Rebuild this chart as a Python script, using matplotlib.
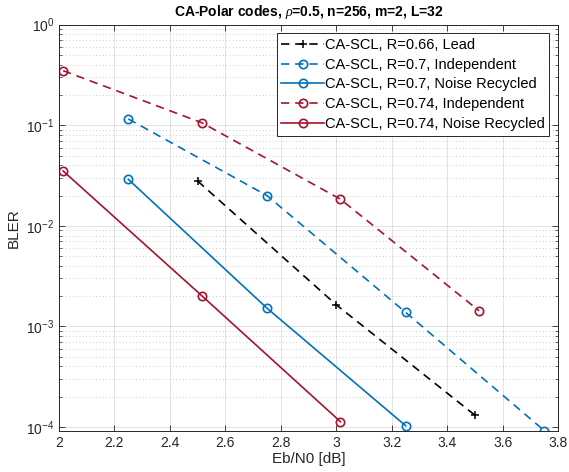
import matplotlib
matplotlib.use('Agg')
import matplotlib.pyplot as plt
from matplotlib.ticker import LogLocator, NullFormatter

plt.rcParams['font.family'] = ['Liberation Sans', 'DejaVu Sans']
plt.rcParams['mathtext.fontset'] = 'custom'
plt.rcParams['mathtext.rm'] = 'Liberation Sans'
plt.rcParams['mathtext.it'] = 'Liberation Serif:italic'

# Eb/N0 points and BLER values
ebn0_lead = [2.5, 3.0, 3.5]
bler_lead = [0.0279, 0.00164, 1.31e-4]

ebn0_r70 = [2.25, 2.75, 3.25, 3.75]
bler_r70_ind = [0.1156, 0.0200, 0.00138, 9.2e-5]
ebn0_r70_nr = [2.25, 2.75, 3.25]
bler_r70_nr = [0.0290, 0.00152, 1.03e-4]

ebn0_r74 = [2.015, 2.515, 3.015, 3.515]
bler_r74_ind = [0.349, 0.106, 0.0184, 0.00143]
ebn0_r74_nr = [2.015, 2.515, 3.015]
bler_r74_nr = [0.0351, 0.00202, 1.13e-4]

labels = ['CA-SCL, R=0.66, Lead',
          'CA-SCL, R=0.7, Independent',
          'CA-SCL, R=0.7, Noise Recycled',
          'CA-SCL, R=0.74, Independent',
          'CA-SCL, R=0.74, Noise Recycled']

blue = '#0072BD'
red = '#A2142F'
dash = (5, 3.5)

fig = plt.figure(figsize=(5.69, 4.72), dpi=100)
ax = fig.add_axes([0.1037, 0.0875, 0.8773, 0.8602])

ax.semilogy(ebn0_lead, bler_lead, '--', color='k', marker='+', ms=6, mew=1.1,
            lw=1.2, dashes=dash, label=labels[0])
ax.semilogy(ebn0_r70, bler_r70_ind, '--', color=blue, marker='o', ms=6, mfc='none',
            mew=1.2, lw=1.2, dashes=dash, label=labels[1])
ax.semilogy(ebn0_r70_nr, bler_r70_nr, '-', color=blue, marker='o', ms=6, mfc='none',
            mew=1.2, lw=1.2, label=labels[2])
ax.semilogy(ebn0_r74, bler_r74_ind, '--', color=red, marker='o', ms=6, mfc='none',
            mew=1.2, lw=1.2, dashes=dash, label=labels[3])
ax.semilogy(ebn0_r74_nr, bler_r74_nr, '-', color=red, marker='o', ms=6, mfc='none',
            mew=1.2, lw=1.2, label=labels[4])

ax.set_xlim(2, 3.8)
ax.set_ylim(9.2e-5, 1)
ax.set_xticks([2, 2.2, 2.4, 2.6, 2.8, 3, 3.2, 3.4, 3.6, 3.8])
ax.set_xticklabels(['2', '2.2', '2.4', '2.6', '2.8', '3', '3.2', '3.4', '3.6', '3.8'])
ax.yaxis.set_major_locator(LogLocator(base=10, numticks=10))
ax.yaxis.set_minor_locator(LogLocator(base=10, subs=range(2, 10), numticks=20))
ax.yaxis.set_minor_formatter(NullFormatter())

ax.tick_params(which='both', direction='in', top=True, right=True,
               labelsize=10, colors='0.15', labelcolor='0.15')
ax.tick_params(which='major', length=4, width=0.6)
ax.tick_params(which='minor', length=2.2, width=0.5)
for s in ax.spines.values():
    s.set_color('0.15')
    s.set_linewidth(0.7)

ax.grid(True, which='major', color='0.15', alpha=0.15, lw=0.6)
ax.grid(True, which='minor', axis='y', color='0.15', alpha=0.3, lw=0.6, ls=(0, (1, 3)))
ax.set_axisbelow(True)

ax.set_xlabel('Eb/N0 [dB]', fontsize=11, color='0.15', labelpad=2)
ax.set_ylabel('BLER', fontsize=11, color='0.15', labelpad=4)
ax.set_title(r'CA-Polar codes, $\rho$=0.5, n=256, m=2, L=32', fontsize=10,
             fontweight='bold', pad=6)

leg = ax.legend(loc='upper right', fontsize=10.5, frameon=True, fancybox=False,
                handlelength=2.9, handletextpad=0.1, labelspacing=0.4,
                borderpad=0.3, borderaxespad=0.6)
leg.get_frame().set_edgecolor('0.15')
leg.get_frame().set_linewidth(0.7)
leg.get_frame().set_alpha(1)

fig.savefig('out.png', dpi=100)
